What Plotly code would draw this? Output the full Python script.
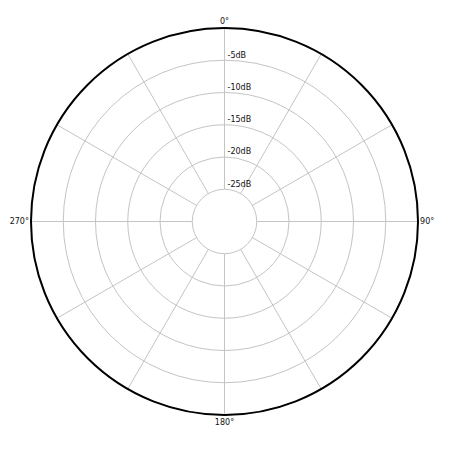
import plotly.graph_objects as go

# Pegel-Ringe (dB) und Winkelraster
db_ticks = [-25, -20, -15, -10, -5]
db_labels = [f"{v}dB" for v in db_ticks]
db_range = [-25, 0]
angle_ticks = list(range(0, 360, 30))
angle_labels = [f"{a}°" if a % 90 == 0 else "" for a in angle_ticks]

fig = go.Figure()
# leere Spuren, damit beide Polarflächen gezeichnet werden
fig.add_trace(go.Scatterpolar(r=[], theta=[], mode="lines", showlegend=False, subplot="polar"))
fig.add_trace(go.Scatterpolar(r=[], theta=[], mode="lines", showlegend=False, subplot="polar2"))

grid = "#c4c4c4"
dom = dict(x=[0, 1], y=[0, 1])
fig.update_layout(
    width=450,
    height=450,
    margin=dict(l=23, r=40, t=20, b=43),
    paper_bgcolor="white",
    font=dict(family="DejaVu Sans", size=8, color="#111111"),
    showlegend=False,
    polar=dict(
        domain=dom,
        bgcolor="white",
        hole=1 / 6,
        radialaxis=dict(
            range=db_range,
            tickvals=db_ticks,
            # Leerzeile schiebt die Beschriftung etwas über den Ring
            ticktext=[f" {t}<br>&nbsp;" for t in db_labels],
            angle=90,
            tickangle=90,
            side="clockwise",
            showline=False,
            ticks="",
            gridcolor=grid,
            gridwidth=1,
            tickfont=dict(size=8),
        ),
        angularaxis=dict(
            rotation=90,
            direction="clockwise",
            tickmode="array",
            tickvals=angle_ticks,
            ticktext=angle_labels,
            ticks="",
            showline=True,
            linecolor=grid,
            linewidth=1,
            gridcolor=grid,
            gridwidth=1,
            tickfont=dict(size=8),
        ),
    ),
    # zweite Fläche nur für den schwarzen Außenrand
    polar2=dict(
        domain=dom,
        bgcolor="rgba(0,0,0,0)",
        radialaxis=dict(range=db_range, visible=False),
        angularaxis=dict(
            rotation=90,
            direction="clockwise",
            showline=True,
            linecolor="black",
            linewidth=2,
            showgrid=False,
            showticklabels=False,
            ticks="",
        ),
    ),
)

fig.write_html("out.html")
